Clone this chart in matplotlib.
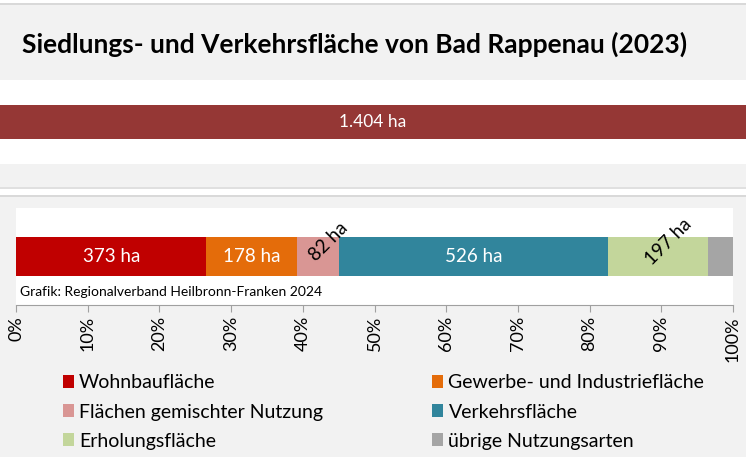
import matplotlib
matplotlib.use("Agg")
import matplotlib.pyplot as plt
from matplotlib.patches import Rectangle

plt.rcParams['font.family'] = ['Lato', 'DejaVu Sans']

# Flächen in ha (2023)
kategorien = ["Wohnbaufläche", "Gewerbe- und Industriefläche", "Flächen gemischter Nutzung",
              "Verkehrsfläche", "Erholungsfläche", "übrige Nutzungsarten"]
flaechen = [373, 178, 82, 526, 197, 48]
farben = ["#c00000", "#e46c0a", "#d99694", "#31859c", "#c3d69b", "#a5a5a5"]
# Art der Beschriftung je Segment: innen (weiß), schräg (schwarz) oder keine
beschriftung = ["innen", "innen", "schraeg", "innen", "schraeg", None]
gesamt = sum(flaechen)
ticks = [0, 10, 20, 30, 40, 50, 60, 70, 80, 90, 100]

W, H = 746, 457
fig = plt.figure(figsize=(W / 100, H / 100), dpi=100, facecolor="#f2f2f2")

def box(x, y, w, h, color):
    # Rechteck in Pixeln, y von oben gemessen
    fig.patches.append(Rectangle((x / W, 1 - (y + h) / H), w / W, h / H,
                                 transform=fig.transFigure, color=color, lw=0, zorder=-1))

box(0, 0, W, 3, "white")
box(0, 3, W, 2, "#d9d9d9")
box(0, 80, W, 84, "white")
box(0, 187, W, 2, "#e0e0e0")
box(0, 189, W, 6, "white")
box(0, 195, W, 2, "#d9d9d9")

fig.text(22 / W, 1 - 44 / H, "Siedlungs- und Verkehrsfläche von Bad Rappenau (2023)",
         fontsize=19, fontweight="bold", va="center", ha="left")

# Gesamtfläche
ax1 = fig.add_axes([0, 1 - 139 / H, 1, 34 / H])
ax1.barh(0, gesamt, height=1, color="#953735")
ax1.set_xlim(0, gesamt)
ax1.set_ylim(-0.5, 0.5)
ax1.axis("off")
ax1.text(gesamt / 2, 0, f"{gesamt:,} ha".replace(",", "."), color="white",
         fontsize=12.5, ha="center", va="center")

# Anteile der Nutzungsarten
ax2 = fig.add_axes([16 / W, 1 - 305 / H, 717 / W, 97 / H])
ax2.set_facecolor("white")
links = 0
for wert, farbe, name, art in zip(flaechen, farben, kategorien, beschriftung):
    anteil = wert / gesamt * 100
    ax2.barh(0.5, anteil, left=links, height=0.4, color=farbe, label=name)
    mitte = links + anteil / 2
    if art == "innen":
        ax2.text(mitte, 0.5, f"{wert} ha", color="white", fontsize=13.5,
                 ha="center", va="center")
    elif art == "schraeg":
        ax2.annotate(f"{wert} ha", (mitte, 0.5), xytext=(10, 15),
                     textcoords="offset pixels", rotation=45, rotation_mode="anchor",
                     ha="center", va="center", fontsize=13.5, color="black")
    links += anteil

ax2.set_xlim(0, 100)
ax2.set_ylim(0, 1)
ax2.set_yticks([])
ax2.set_xticks(ticks)
ax2.set_xticklabels([f"{t}%" for t in ticks], rotation=90, fontsize=13)
for s in ("top", "left", "right"):
    ax2.spines[s].set_visible(False)
ax2.spines["bottom"].set_color("#a0a0a0")
ax2.tick_params(axis="x", direction="out", length=5, color="#a0a0a0", pad=3)
ax2.text(0.005, 0.13, "Grafik: Regionalverband Heilbronn-Franken 2024", transform=ax2.transAxes,
         fontsize=10, ha="left", va="center")

# Legende zeilenweise
handles, labels = ax2.get_legend_handles_labels()
reihenfolge = [0, 2, 4, 1, 3, 5]
fig.legend([handles[i] for i in reihenfolge], [labels[i] for i in reihenfolge],
           ncol=2, loc="upper left", bbox_to_anchor=(45 / W, 1 - 357 / H),
           frameon=False, fontsize=14, handlelength=0.57, handleheight=0.65,
           handletextpad=0.28, columnspacing=5.6, labelspacing=0.62)

fig.savefig("out.png", dpi=100, facecolor=fig.get_facecolor())
